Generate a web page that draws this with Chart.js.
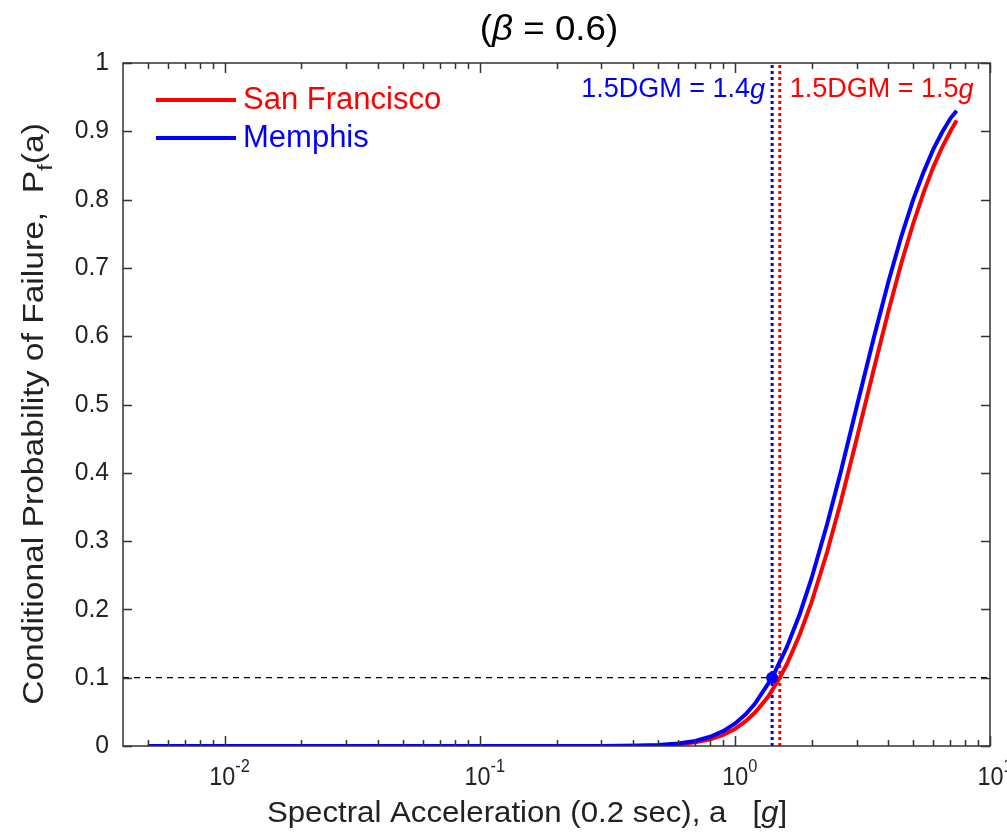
<!DOCTYPE html>
<html>
<head>
<meta charset="utf-8">
<script src="https://cdn.jsdelivr.net/npm/chart.js@4/dist/chart.umd.min.js"></script>
<style>
  html, body { margin: 0; padding: 0; background: #fff; }
  #wrap { width: 1007px; height: 834px; }
</style>
</head>
<body>
<div id="wrap"><canvas id="c" width="1007" height="834"></canvas></div>
<script>
// values
const sfX = [0.022, 0.05, 0.1, 0.2, 0.3, 0.4, 0.5, 0.6, 0.7, 0.8, 0.9, 1.0, 1.1, 1.2, 1.35, 1.5, 1.6, 1.8, 2.0, 2.3, 2.6, 3.0, 3.5, 4.0, 4.5, 5.0, 5.5, 6.0, 6.5, 7.0, 7.4];
const sfP = [0, 0, 0, 0, 0, 0.0002, 0.0009, 0.0025, 0.0053, 0.0099, 0.0164, 0.025, 0.036, 0.049, 0.072, 0.100, 0.120, 0.164, 0.211, 0.284, 0.357, 0.449, 0.551, 0.637, 0.708, 0.765, 0.811, 0.848, 0.877, 0.900, 0.916];
const memX = [0.005, 0.01, 0.05, 0.1, 0.2, 0.3, 0.4, 0.5, 0.6, 0.7, 0.8, 0.9, 1.0, 1.1, 1.2, 1.4, 1.6, 1.8, 2.0, 2.3, 2.6, 3.0, 3.5, 4.0, 4.5, 5.0, 5.5, 6.0, 6.5, 7.0, 7.4];
const memP = [0, 0, 0, 0, 0, 0.0001, 0.0004, 0.0013, 0.0036, 0.0074, 0.0135, 0.0218, 0.0327, 0.046, 0.062, 0.100, 0.145, 0.194, 0.246, 0.325, 0.401, 0.496, 0.597, 0.680, 0.747, 0.800, 0.841, 0.874, 0.899, 0.919, 0.930];
const dgmSF = 1.5, dgmMem = 1.4, pTarget = 0.1;
const xMin = 0.004, xMax = 10;
const yTicks = [0, 0.1, 0.2, 0.3, 0.4, 0.5, 0.6, 0.7, 0.8, 0.9, 1];
const xDecades = [-3, -2, -1, 0, 1];

const FONT = '"Liberation Sans", Arial, sans-serif';
const pts = (xs, ys) => xs.map((x, i) => ({ x: x, y: ys[i] }));

// 帶上下標/斜體的文字
function richText(ctx, parts, x, y, align, size, stretch) {
  const k = stretch || 1;
  const meas = parts.map(p => {
    const s = (p.sub || p.sup) ? size * 0.7 : size;
    ctx.font = (p.italic ? 'italic ' : '') + s + 'px ' + FONT;
    return { p, s, w: ctx.measureText(p.t).width * k };
  });
  const total = meas.reduce((a, m) => a + m.w, 0);
  let cx = align === 'center' ? x - total / 2 : align === 'right' ? x - total : x;
  ctx.textAlign = 'left';
  ctx.textBaseline = 'middle';
  meas.forEach(m => {
    ctx.font = (m.p.italic ? 'italic ' : '') + m.s + 'px ' + FONT;
    let dy = 0;
    if (m.p.sub) dy = size * 0.38;
    if (m.p.sup) dy = -size * 0.42;
    ctx.save();
    ctx.translate(cx, y + dy);
    ctx.scale(k, 1);
    ctx.fillText(m.p.t, 0, 0);
    ctx.restore();
    cx += m.w;
  });
  return total;
}

const decor = {
  id: 'decor',
  afterDraw(chart) {
    const ctx = chart.ctx;
    const a = chart.chartArea;
    const xs = chart.scales.x, ys = chart.scales.y;
    ctx.save();
    ctx.strokeStyle = '#333';
    ctx.lineWidth = 1.5;
    ctx.strokeRect(a.left, a.top, a.right - a.left, a.bottom - a.top);

    // log ticks (inside, top and bottom)
    ctx.beginPath();
    xDecades.forEach(d => {
      for (let m = 1; m <= 9; m++) {
        const v = m * Math.pow(10, d);
        if (v <= xMin || v > xMax) continue;
        const px = Math.round(xs.getPixelForValue(v)) + 0.5;
        const len = m === 1 ? 10 : 6;
        ctx.moveTo(px, a.bottom); ctx.lineTo(px, a.bottom - len);
        ctx.moveTo(px, a.top); ctx.lineTo(px, a.top + len);
      }
    });
    yTicks.forEach(t => {
      const py = Math.round(ys.getPixelForValue(t)) + 0.5;
      ctx.moveTo(a.left, py); ctx.lineTo(a.left + 9, py);
      ctx.moveTo(a.right, py); ctx.lineTo(a.right - 9, py);
    });
    ctx.stroke();

    ctx.fillStyle = '#222';
    yTicks.forEach(t => {
      richText(ctx, [{ t: String(t) }], a.left - 14, ys.getPixelForValue(t), 'right', 26, 0.95);
    });
    xDecades.forEach(d => {
      const v = Math.pow(10, d);
      if (v < xMin) return;
      const px = xs.getPixelForValue(v);
      richText(ctx, [{ t: '10' }, { t: String(d), sup: true }], px + 5, a.bottom + 32, 'center', 26, 0.9);
    });

    richText(ctx, [{ t: 'Spectral Acceleration (0.2 sec), a   [' }, { t: 'g', italic: true }, { t: ']' }],
      527, 814, 'center', 30, 1.04);
    ctx.save();
    ctx.translate(35, 414);
    ctx.rotate(-Math.PI / 2);
    richText(ctx, [{ t: 'Conditional Probability of Failure,  P' }, { t: 'f', sub: true }, { t: '(a)' }], 0, 0, 'center', 30, 1.12);
    ctx.restore();

    ctx.fillStyle = '#000';
    richText(ctx, [{ t: '(' }, { t: 'β', italic: true }, { t: ' = 0.6)' }], 549, 30, 'center', 35, 1.05);

    // legend
    const leg = [['San Francisco', '#ff0000', 100], ['Memphis', '#0000ff', 138]];
    leg.forEach(([name, col, y]) => {
      ctx.strokeStyle = col;
      ctx.lineWidth = 4;
      ctx.beginPath(); ctx.moveTo(156, y); ctx.lineTo(236, y); ctx.stroke();
      ctx.fillStyle = col;
      richText(ctx, [{ t: name }], 243, y, 'left', 31);
    });

    // DGM labels
    ctx.fillStyle = '#0000ff';
    richText(ctx, [{ t: '1.5DGM = 1.4' }, { t: 'g', italic: true }], xs.getPixelForValue(dgmMem) - 7, 90, 'right', 27);
    ctx.fillStyle = '#ff0000';
    richText(ctx, [{ t: '1.5DGM = 1.5' }, { t: 'g', italic: true }], xs.getPixelForValue(dgmSF) + 10, 90, 'left', 27);
    ctx.restore();
  }
};

new Chart(document.getElementById('c'), {
  type: 'line',
  data: {
    datasets: [
      { data: [{ x: dgmMem, y: pTarget }], showLine: false, pointRadius: 6, pointBackgroundColor: '#0000ff', pointBorderWidth: 0, order: 0 },
      { data: pts(memX, memP), borderColor: '#0000ff', borderWidth: 4, pointRadius: 0, order: 1 },
      { data: pts(sfX, sfP), borderColor: '#ff0000', borderWidth: 4, pointRadius: 0, order: 3 },
      { data: [{ x: dgmMem, y: 0 }, { x: dgmMem, y: 1 }], borderColor: '#0000ff', borderWidth: 3, borderDash: [3, 3], pointRadius: 0, order: 4 },
      { data: [{ x: dgmSF, y: 0 }, { x: dgmSF, y: 1 }], borderColor: '#ff0000', borderWidth: 3, borderDash: [3, 3], pointRadius: 0, order: 5 },
      { data: [{ x: xMin, y: pTarget }, { x: xMax, y: pTarget }], borderColor: '#000', borderWidth: 1.3, borderDash: [6, 5], pointRadius: 0, order: 6 }
    ]
  },
  options: {
    responsive: false,
    animation: false,
    layout: { padding: { left: 123, top: 63, right: 17, bottom: 88 } },
    plugins: { legend: { display: false }, tooltip: { enabled: false } },
    scales: {
      x: { type: 'logarithmic', min: xMin, max: xMax, display: false },
      y: { type: 'linear', min: 0, max: 1, display: false }
    }
  },
  plugins: [decor]
});
</script>
</body>
</html>
